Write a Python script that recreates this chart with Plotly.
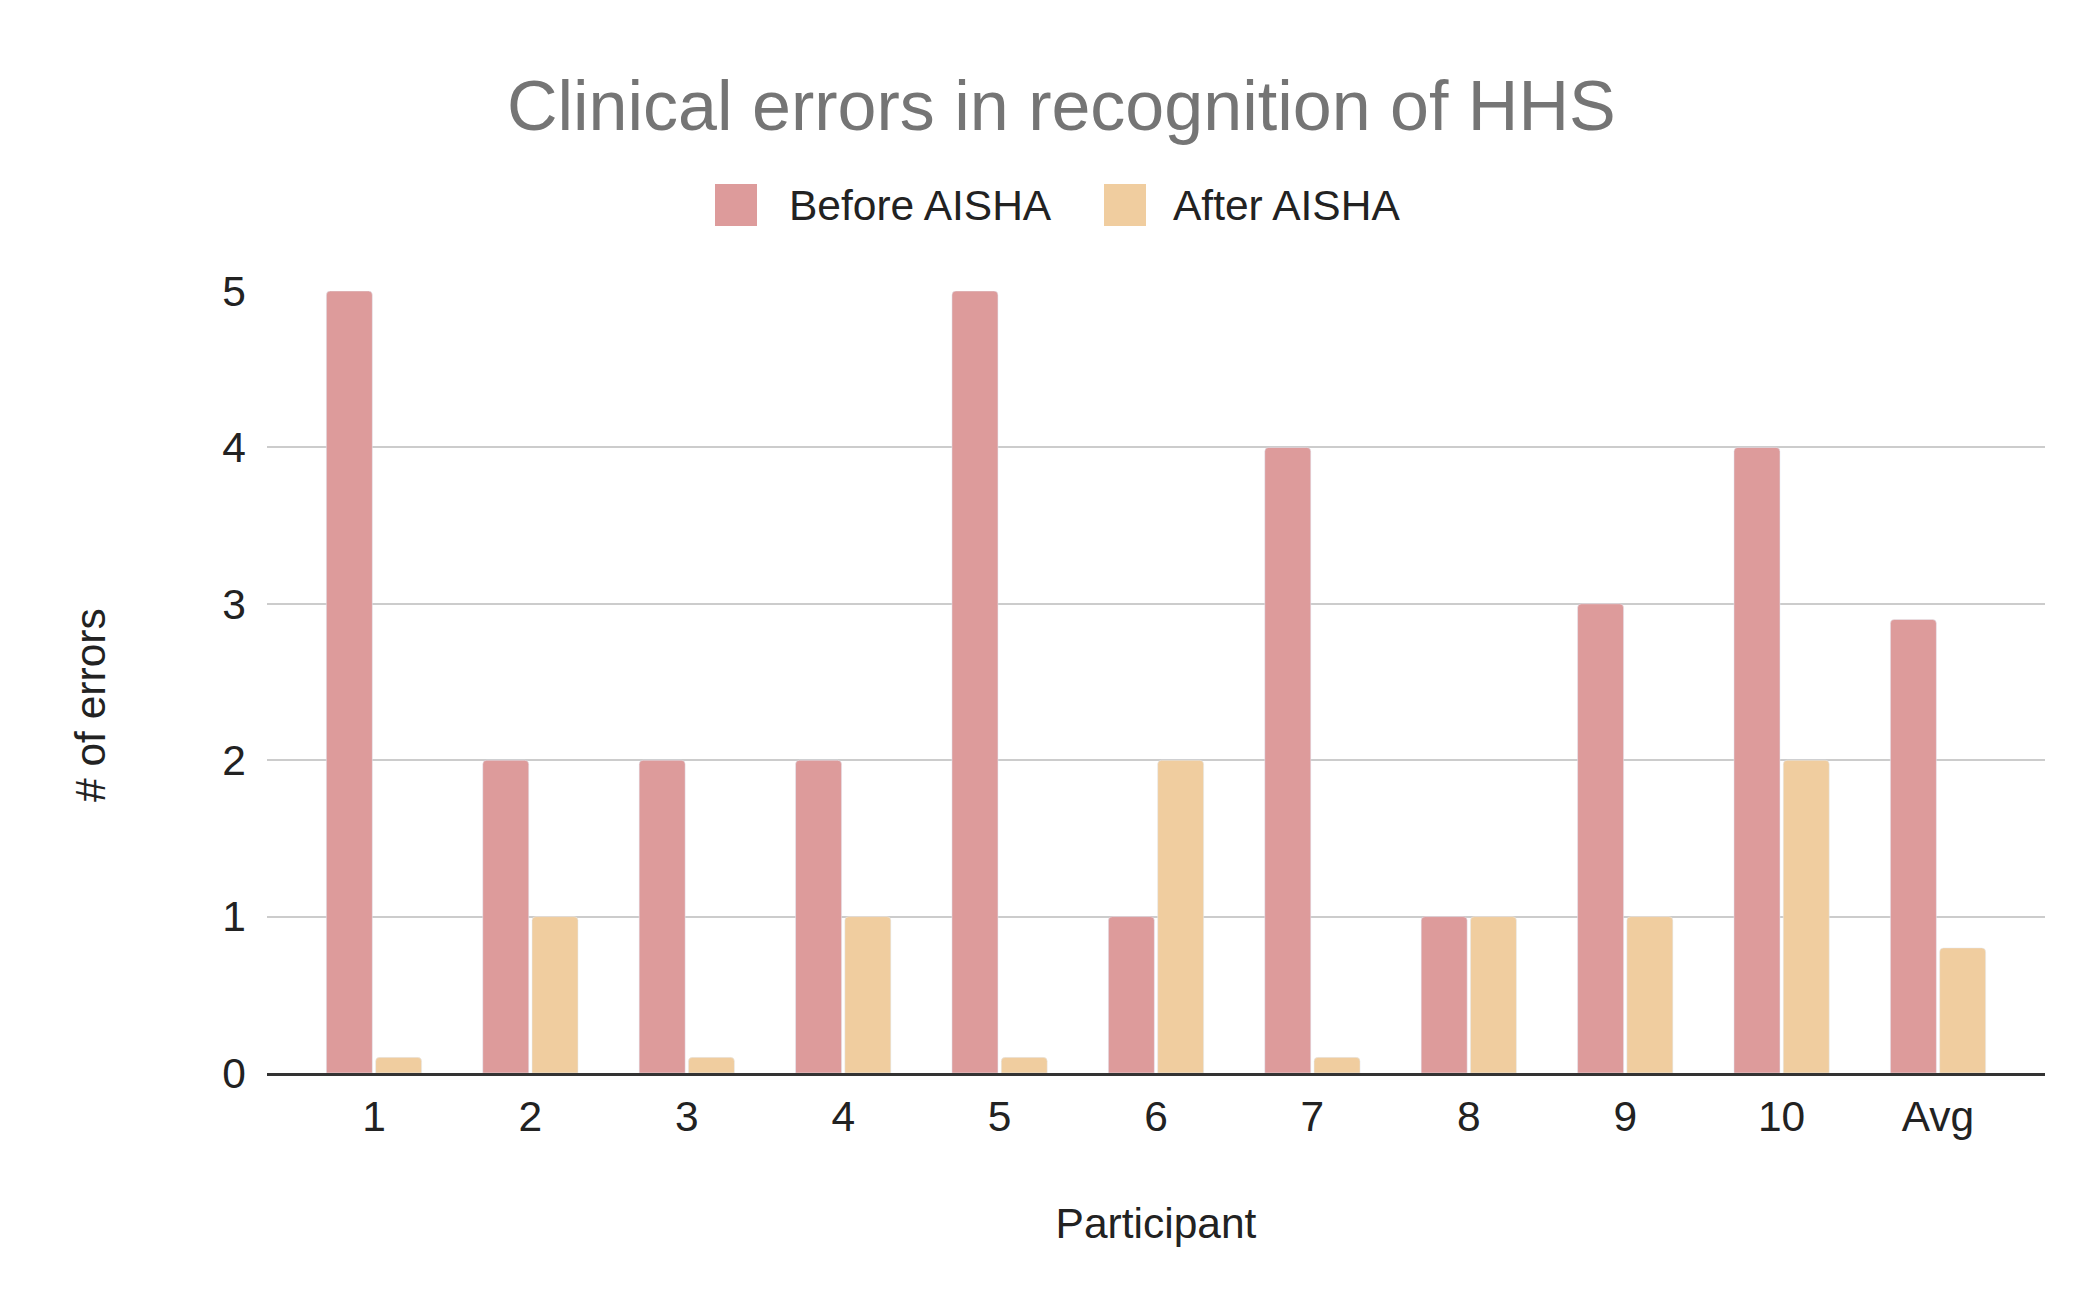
import plotly.graph_objects as go

# chart data
participants = ["1", "2", "3", "4", "5", "6", "7", "8", "9", "10", "Avg"]
before_aisha = [5, 2, 2, 2, 5, 1, 4, 1, 3, 4, 2.9]
after_aisha = [0.1, 1, 0.1, 1, 0.1, 2, 0.1, 1, 1, 2, 0.8]
y_ticks = [0, 1, 2, 3, 4, 5]

before_color = "#DD9B9B"
after_color = "#F0CD9F"
font_name = "Arial, Liberation Sans, sans-serif"
text_size = 42.5

W, H = 2094, 1294
L, R, T, B = 259, 57, 283, 229


def px_to_paper_x(px):
    return (px - L) / (W - L - R)


def px_to_paper_y(py):
    return (H - B - py) / (H - T - B)


fig = go.Figure()
fig.add_trace(go.Bar(x=participants, y=before_aisha, name="Before AISHA",
                     marker=dict(color=before_color, cornerradius=4)))
fig.add_trace(go.Bar(x=participants, y=after_aisha, name="After AISHA",
                     marker=dict(color=after_color, cornerradius=4)))

# custom legend (larger swatches than plotly's built-in one)
legend_items = [("Before AISHA", before_color, 707, 779),
                ("After AISHA", after_color, 1096, 1163)]
shapes = []
annotations = []
for label, color, sx, tx in legend_items:
    shapes.append(dict(type="rect", xref="paper", yref="paper",
                       x0=px_to_paper_x(sx), x1=px_to_paper_x(sx + 42),
                       y0=px_to_paper_y(218), y1=px_to_paper_y(176),
                       fillcolor=color, line=dict(width=0)))
    annotations.append(dict(text=label, xref="paper", yref="paper",
                            x=px_to_paper_x(tx), y=px_to_paper_y(198),
                            xanchor="left", yanchor="middle", showarrow=False,
                            font=dict(family=font_name, size=text_size, color="#222222")))

# y axis title, placed like the original (a bit below the plot centre)
annotations.append(dict(text="# of errors", xref="paper", yref="paper",
                        x=px_to_paper_x(82), y=px_to_paper_y(697),
                        xanchor="center", yanchor="middle", textangle=-90,
                        showarrow=False,
                        font=dict(family=font_name, size=text_size, color="#222222")))

fig.update_layout(
    width=W, height=H,
    margin=dict(l=L, r=R, t=T, b=B),
    paper_bgcolor="white", plot_bgcolor="white",
    barmode="group", bargap=0.37, bargroupgap=0.066,
    showlegend=False,
    title=dict(text="Clinical errors in recognition of HHS",
               x=0.503, xref="container", xanchor="center",
               y=1 - 97 / H, yref="container", yanchor="middle",
               font=dict(family=font_name, size=70, color="#757575")),
    shapes=shapes,
    annotations=annotations,
    font=dict(family=font_name, size=text_size, color="#222222"),
)
fig.update_xaxes(range=[-0.684, 10.684], showgrid=False, showline=True,
                 linecolor="#333333", linewidth=3, ticks="",
                 ticklabelstandoff=4,
                 title=dict(text="Participant", standoff=70,
                            font=dict(size=text_size, color="#222222")))
fig.update_yaxes(range=[0, 5], tickvals=y_ticks, showgrid=True,
                 gridcolor="#CCCCCC", gridwidth=2, zeroline=False,
                 showline=False, ticks="", ticklabelstandoff=20)

fig.write_html("out.html")
